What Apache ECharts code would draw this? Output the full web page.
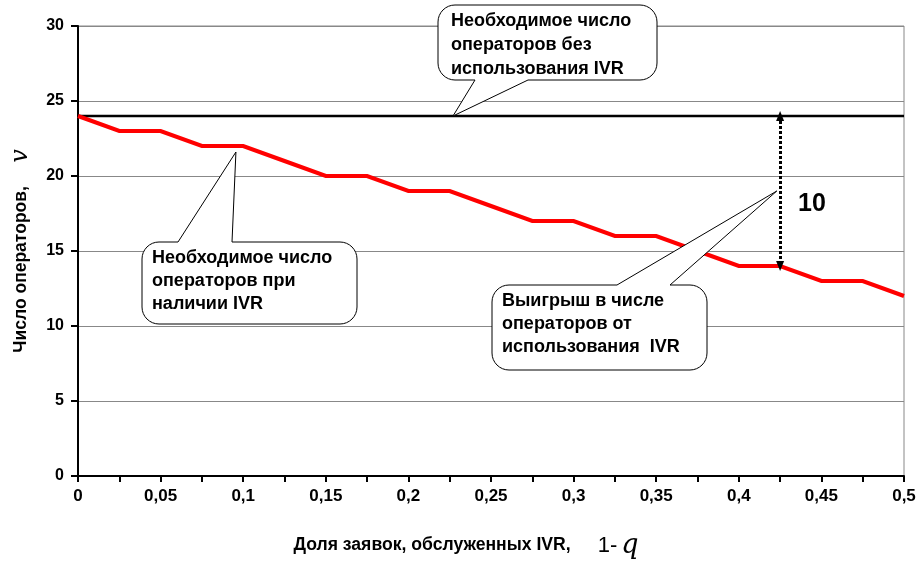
<!DOCTYPE html>
<html>
<head>
<meta charset="utf-8">
<script src="https://cdn.jsdelivr.net/npm/echarts@6/dist/echarts.min.js"></script>
<style>
  html, body { margin: 0; padding: 0; background: #ffffff; }
  #chart { width: 919px; height: 561px; }
</style>
</head>
<body>
<div id="chart"></div>
<script>
// Share of calls handled by IVR (1 - q)
const shareIVR = [0, 0.025, 0.05, 0.075, 0.1, 0.125, 0.15, 0.175, 0.2, 0.225, 0.25,
                  0.275, 0.3, 0.325, 0.35, 0.375, 0.4, 0.425, 0.45, 0.475, 0.5];
// Operators required when IVR is in use
const operatorsWithIVR = [24, 23, 23, 22, 22, 21, 20, 20, 19, 19, 18,
                          17, 17, 16, 16, 15, 14, 14, 13, 13, 12];
// Operators required without IVR
const operatorsWithoutIVR = 24;
// Tick labels
const xTickLabels = ['0', '0,05', '0,1', '0,15', '0,2', '0,25', '0,3', '0,35', '0,4', '0,45', '0,5'];
const yTickLabels = ['0', '5', '10', '15', '20', '25', '30'];
// Point where the gain is measured
const gainAt = 0.425;

const calloutLines = {
  without: ['Необходимое число', 'операторов без', 'использования IVR'],
  withIVR: ['Необходимое число', 'операторов при', 'наличии IVR'],
  gain: ['Выигрыш в числе', 'операторов от', 'использования  IVR']
};

const FONT = 'Liberation Sans, Arial, sans-serif';
const chart = echarts.init(document.getElementById('chart'), null, { renderer: 'canvas' });

const gainIndex = shareIVR.indexOf(gainAt);
const gainValue = operatorsWithoutIVR - operatorsWithIVR[gainIndex];

chart.setOption({
  animation: false,
  backgroundColor: '#ffffff',
  grid: {
    left: 78, right: 15, top: 26, bottom: 85,
    outerBoundsMode: 'none', containLabel: false,
    show: true, borderColor: '#888888', borderWidth: 1
  },
  xAxis: {
    type: 'value', min: 0, max: 0.5, interval: 0.025,
    axisLine: { show: true, lineStyle: { color: '#000', width: 2 } },
    axisTick: { show: true, inside: false, length: 6, lineStyle: { color: '#000', width: 2 } },
    splitLine: { show: false },
    axisLabel: {
      color: '#000', fontFamily: FONT, fontWeight: 'bold', fontSize: 17, margin: 12,
      formatter: v => {
        const k = Math.round(v * 40);
        return k % 2 === 0 ? xTickLabels[k / 2] : '';
      }
    },
    name: '{a|Доля заявок, обслуженных IVR,}{s|       }{b|1-}{s| }{q|q}',
    nameLocation: 'middle', nameGap: 56,
    nameTextStyle: {
      padding: [0, 50, 0, 0],
      rich: {
        a: { fontFamily: FONT, fontWeight: 'bold', fontSize: 17.6, color: '#000' },
        s: { fontFamily: FONT, fontSize: 14, color: '#000' },
        b: { fontFamily: FONT, fontWeight: 'normal', fontSize: 22, color: '#000' },
        q: { fontFamily: 'DejaVu Serif, serif', fontStyle: 'italic', fontSize: 27, color: '#000' }
      }
    }
  },
  yAxis: {
    type: 'value', min: 0, max: 30, interval: 5,
    axisLine: { show: true, lineStyle: { color: '#000', width: 2 } },
    axisTick: { show: true, inside: false, length: 7, lineStyle: { color: '#000', width: 2 } },
    splitLine: { show: true, lineStyle: { color: '#888888', width: 1 } },
    axisLabel: {
      color: '#000', fontFamily: FONT, fontWeight: 'bold', fontSize: 16, margin: 14,
      formatter: v => yTickLabels[Math.round(v / 5)]
    },
    name: '{a|Число операторов,}{s|      }{v|v}',
    nameLocation: 'middle', nameGap: 45, nameRotate: 90,
    nameTextStyle: {
      rich: {
        a: { fontFamily: FONT, fontWeight: 'bold', fontSize: 17.5, color: '#000' },
        s: { fontFamily: FONT, fontSize: 14, color: '#000' },
        v: { fontFamily: 'DejaVu Serif, serif', fontStyle: 'italic', fontSize: 24, color: '#000' }
      }
    }
  },
  series: [
    {
      name: 'Без IVR',
      type: 'line',
      data: [[shareIVR[0], operatorsWithoutIVR], [shareIVR[shareIVR.length - 1], operatorsWithoutIVR]],
      symbol: 'none',
      lineStyle: { color: '#000', width: 2.5 },
      z: 3,
      markLine: {
        silent: true,
        symbol: ['triangle', 'triangle'],
        symbolSize: [8, 10],
        label: { show: false },
        lineStyle: { color: '#000', width: 3, type: [3, 2] },
        data: [[{ coord: [gainAt, operatorsWithoutIVR] }, { coord: [gainAt, operatorsWithIVR[gainIndex]] }]]
      }
    },
    {
      name: 'С IVR',
      type: 'line',
      data: shareIVR.map((x, i) => [x, operatorsWithIVR[i]]),
      symbol: 'none',
      lineStyle: { color: '#ff0000', width: 4, join: 'miter' },
      z: 4
    }
  ]
});

// Rounded callout outline with a wedge-shaped pointer, as a list of polygon points
function arcPoints(cx, cy, r, a0, a1) {
  const pts = [];
  const n = 8;
  for (let i = 0; i <= n; i++) {
    const a = a0 + (a1 - a0) * i / n;
    pts.push([cx + r * Math.cos(a), cy + r * Math.sin(a)]);
  }
  return pts;
}

function calloutPoints(x, y, w, h, r, side, b1, b2, tip) {
  const P = Math.PI;
  let pts = [];
  pts = pts.concat(arcPoints(x + r, y + r, r, P, 1.5 * P));               // top-left
  if (side === 'top') pts.push([b1, y], tip, [b2, y]);
  pts = pts.concat(arcPoints(x + w - r, y + r, r, 1.5 * P, 2 * P));       // top-right
  pts = pts.concat(arcPoints(x + w - r, y + h - r, r, 0, 0.5 * P));       // bottom-right
  if (side === 'bottom') pts.push([b2, y + h], tip, [b1, y + h]);
  pts = pts.concat(arcPoints(x + r, y + h - r, r, 0.5 * P, P));           // bottom-left
  return pts;
}

function callout(box, side, b1, b2, tipData, lines, textLeft, textTop, lineHeight) {
  const tip = chart.convertToPixel({ gridIndex: 0 }, tipData);
  return [
    {
      type: 'polygon', z: 100,
      shape: { points: calloutPoints(box[0], box[1], box[2], box[3], 17, side, b1, b2, tip) },
      style: { fill: '#ffffff', stroke: '#000', lineWidth: 1 }
    },
    {
      type: 'text', z: 101, left: textLeft, top: textTop,
      style: {
        text: lines.join('\n'), fill: '#000',
        font: `bold 18px ${FONT}`, lineHeight: lineHeight
      }
    }
  ];
}

const gainTop = chart.convertToPixel({ gridIndex: 0 }, [gainAt, operatorsWithoutIVR]);
const gainBottom = chart.convertToPixel({ gridIndex: 0 }, [gainAt, operatorsWithIVR[gainIndex]]);

chart.setOption({
  graphic: [
    ...callout([438, 5, 219, 75], 'bottom', 475, 528, [0.227, operatorsWithoutIVR], calloutLines.without, 451, 9, 24),
    ...callout([142, 242, 215, 82], 'top', 178, 232, [0.0956, 21.6], calloutLines.withIVR, 152, 247, 23),
    ...callout([492, 285, 215, 85], 'top', 617, 670, [0.423, 19.0], calloutLines.gain, 502, 290, 23),
    {
      type: 'text', z: 102,
      left: gainTop[0] + 18, top: (gainTop[1] + gainBottom[1]) / 2 + 1,
      style: { text: String(gainValue), fill: '#000', font: `bold 25px ${FONT}` }
    }
  ]
});
</script>
</body>
</html>
